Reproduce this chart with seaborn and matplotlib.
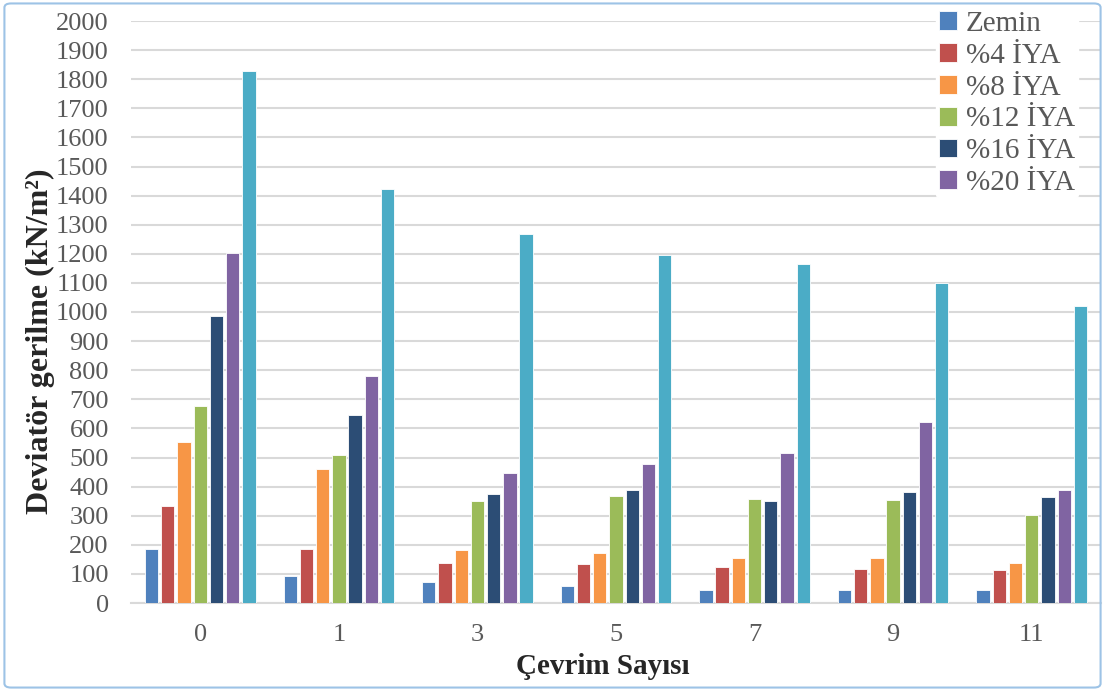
import pandas as pd
import seaborn as sns
import matplotlib.pyplot as plt
from matplotlib.patches import FancyBboxPatch

# veriler
cevrim = ['0', '1', '3', '5', '7', '9', '11']
seriler = ['Zemin', '%4 İYA', '%8 İYA', '%12 İYA', '%16 İYA', '%20 İYA', '%24 İYA']
zemin = [187, 92, 72, 58, 46, 46, 45]
iya4 = [335, 187, 139, 134, 123, 118, 115]
iya8 = [554, 462, 182, 173, 155, 155, 139]
iya12 = [678, 510, 349, 369, 358, 354, 301]
iya16 = [987, 645, 373, 389, 349, 383, 363]
iya20 = [1203, 781, 448, 479, 517, 621, 389]
iya24 = [1828, 1423, 1269, 1197, 1164, 1098, 1019]
renkler = ['#4F81BD', '#C0504D', '#F79646', '#9BBB59', '#2C4D75', '#8064A2', '#4BACC6']

degerler = [zemin, iya4, iya8, iya12, iya16, iya20, iya24]
satirlar = []
for s, v in zip(seriler, degerler):
    for c, y in zip(cevrim, v):
        satirlar.append({'cevrim': c, 'seri': s, 'deger': y})
df = pd.DataFrame(satirlar)

sns.set_style('white')
plt.rcParams['font.family'] = ['Liberation Serif', 'DejaVu Serif']

fig = plt.figure(figsize=(11.05, 6.91), dpi=100)
ax = fig.add_axes([131/1105, 1-603/691, (1101-131)/1105, (603-21)/691])

sns.barplot(data=df, x='cevrim', y='deger', hue='seri', order=cevrim, hue_order=seriler,
            palette=renkler, saturation=1, width=0.82, gap=0.18, edgecolor='white',
            linewidth=0.6, ax=ax, zorder=3)

ax.set_ylim(0, 2000)
ax.set_xlim(-0.5, 6.5)
ax.set_yticks(range(0, 2001, 100))
ax.yaxis.grid(True, color='#d9d9d9', linewidth=1.5, zorder=0)
ax.set_axisbelow(True)
for sp in ['top', 'right', 'left']:
    ax.spines[sp].set_visible(False)
ax.spines['bottom'].set_color('#d9d9d9')
ax.spines['bottom'].set_linewidth(1.5)
ax.tick_params(axis='both', length=0, labelsize=19, labelcolor='#595959')
ax.tick_params(axis='y', pad=16)
ax.tick_params(axis='x', pad=15)

ax.set_xlabel('Çevrim Sayısı', fontsize=21, fontweight='bold', va='center')
ax.set_ylabel('Deviatör gerilme (kN/m²)', fontsize=23, fontweight='bold', va='center')
ax.xaxis.set_label_coords((603-131)/970, (603-667)/582)
ax.yaxis.set_label_coords((40-131)/970, (603-341)/582)

# lejant: son seri gosterilmiyor
h, l = ax.get_legend_handles_labels()
leg = ax.legend(h[:6], l[:6], loc='upper left', bbox_to_anchor=(936/1105, 1-8/691),
                bbox_transform=fig.transFigure, frameon=True, fontsize=21,
                labelspacing=0.2, handlelength=0.62, handleheight=0.62,
                handletextpad=0.3, borderpad=0.1, borderaxespad=0.0)
leg.get_frame().set_edgecolor('white')
leg.get_frame().set_facecolor('white')
leg.get_frame().set_alpha(1)
for t in leg.get_texts():
    t.set_color('#595959')
leg.set_zorder(5)

# cerceve
cerceve = FancyBboxPatch((0.004, 0.005), 0.992, 0.99, boxstyle='round,pad=0,rounding_size=0.006',
                         transform=fig.transFigure, facecolor='none', edgecolor='#9DC3E6',
                         linewidth=1.5)
fig.patches.append(cerceve)

plt.savefig('out.png', dpi=100)
